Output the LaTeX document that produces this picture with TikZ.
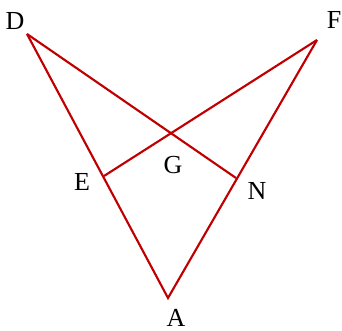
\documentclass[tikz,border=0pt]{standalone}
\usepackage{fontspec}
\setmainfont{Liberation Serif}
\definecolor{linered}{RGB}{192,0,0}

\begin{document}
\begin{tikzpicture}[x=0.75pt, y=-0.75pt, edge/.style={draw=linered, line width=1.6pt, line join=miter}, lbl/.style={font=\fontsize{19.5}{22}\selectfont, inner sep=0pt}]

\useasboundingbox (0,0) rectangle (342,331);
% vertices
\coordinate (D) at (27,34); \coordinate (F) at (317,40); \coordinate (A) at (168,298);
\coordinate (E) at (104,176); \coordinate (N) at (236,178);
\coordinate (G) at (intersection of D--N and E--F);

\draw[edge] (D)--(A)--(F); \draw[edge] (D)--(N); \draw[edge] (E)--(F);

% labels
\node[lbl] (lD) at (15,21) {D}; \node[lbl] (lF) at (334,20) {F}; \node[lbl] (lA) at (176,317.5) {A};
\node[lbl] (lE) at (82,182) {E}; \node[lbl] (lG) at (173,165) {G}; \node[lbl] (lN) at (257,191) {N};
\end{tikzpicture}
\end{document}
